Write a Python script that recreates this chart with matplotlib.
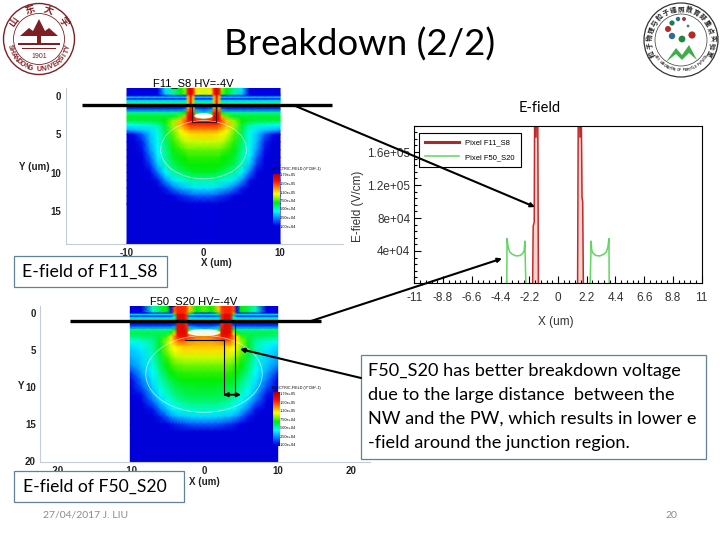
import numpy as np
import matplotlib
matplotlib.use('Agg')
import matplotlib.pyplot as plt
from matplotlib.colors import LinearSegmentedColormap
from matplotlib.patches import Circle, Ellipse, Polygon, Rectangle
from matplotlib.ticker import AutoMinorLocator

# ==========================================
# 1. VALUES
# ==========================================
TITLE = 'Breakdown (2/2)'
BOX_LINES = ['F50_S20 has better breakdown voltage',
             'due to the large distance  between the',
             'NW and the PW, which results in lower e',
             '-field around the junction region.']

# E-field profile, F11_S8 (red) and F50_S20 (green)
x_f11 = [-10, -3.9, -2.4, -1.94, -1.9, -1.82, -1.78, -1.68, -1.62, -1.56, -1.5,
         1.5, 1.56, 1.62, 1.68, 1.76, 1.84, 1.89, 1.94, 2.4, 3.9, 10]
y_f11 = [0, 0, 0, 0, 70000, 75000, 250000, 178000, 250000, 250000, 0,
         0, 250000, 250000, 178000, 250000, 105000, 100000, 0, 0, 0, 0]
x_f50 = [-10, -3.92, -3.9, -3.82, -3.7, -3.5, -3.2, -2.9, -2.7, -2.58, -2.54, -2.46,
         2.46, 2.54, 2.58, 2.7, 2.9, 3.2, 3.5, 3.7, 3.82, 3.9, 3.92, 10]
y_f50 = [0, 0, 55000, 45000, 39000, 36000, 34000, 34500, 37000, 41000, 52000, 0,
         0, 52000, 41000, 37000, 34500, 34000, 36000, 39000, 45000, 55000, 0, 0]
line_xticks = [-11, -8.8, -6.6, -4.4, -2.2, 0, 2.2, 4.4, 6.6, 8.8, 11]
line_xlabels = ['-11', '-8.8', '-6.6', '-4.4', '-2.2', '0', '2.2', '4.4', '6.6', '8.8', '11']
line_yticks = [40000, 80000, 120000, 160000]
line_ylabels = ['4e+04', '8e+04', '1.2e+05', '1.6e+05']

# colour scale labels of the two field maps
scale_labels = ['1.79e+05', '1.50e+05', '1.20e+05', '7.50e+04', '5.00e+04', '2.50e+04', '1.00e+04']

# field maps: half width columns (mirrored about x=0), one row per depth, 0-1 on the colour scale
f11_x = [0, 1, 1.4, 1.7, 2, 2.4, 3, 4, 5, 6, 7, 8, 9, 10]
f11_y = [-1, -0.2, 0, 0.2, 0.4, 0.6, 0.8, 1.1, 1.4, 1.8, 2.2, 2.7, 3.2, 3.8, 4.5, 5, 6, 7, 8, 9, 10, 11, 12, 13, 14, 19.3]
f11_map = [
    [.62, .68, .88, .93, .88, .58, .5, .42, .33, .09, .09, .09, .09, .09],
    [.62, .66, .88, .93, .88, .55, .48, .4, .3, .09, .09, .09, .09, .09],
    [.15, .15, .75, .93, .75, .16, .15, .15, .14, .12, .12, .12, .12, .12],
    [.33, .33, .7, .9, .7, .33, .33, .33, .33, .33, .33, .33, .33, .33],
    [.14, .14, .7, .9, .7, .14, .14, .14, .14, .14, .14, .14, .14, .14],
    [.3, .3, .7, .9, .7, .3, .3, .3, .3, .3, .3, .3, .3, .3],
    [.4, .4, .7, .9, .7, .4, .4, .4, .4, .4, .4, .4, .4, .4],
    [.42, .42, .7, .9, .7, .42, .42, .42, .42, .42, .42, .42, .42, .42],
    [.1, .1, .7, .9, .7, .1, .1, .1, .1, .1, .1, .1, .1, .1],
    [.2, .25, .75, .92, .75, .25, .2, .2, .2, .2, .2, .2, .2, .2],
    [.3, .45, .85, .93, .85, .5, .44, .42, .42, .42, .42, .42, .42, .42],
    [.55, .75, .92, .93, .9, .72, .55, .48, .47, .47, .47, .47, .47, .47],
    [.85, .88, .92, .92, .88, .8, .7, .58, .5, .48, .47, .47, .47, .47],
    [.84, .84, .84, .84, .82, .78, .72, .6, .47, .4, .38, .37, .36, .35],
    [.74, .74, .74, .74, .72, .7, .66, .57, .46, .37, .32, .3, .28, .26],
    [.69, .69, .68, .68, .67, .66, .63, .55, .45, .36, .3, .2, .12, .1],
    [.62, .62, .62, .62, .62, .61, .58, .52, .44, .36, .28, .14, .08, .08],
    [.56, .56, .56, .56, .56, .55, .53, .49, .42, .35, .25, .12, .08, .08],
    [.52, .52, .52, .52, .52, .5, .5, .47, .41, .34, .2, .1, .08, .08],
    [.5, .5, .5, .5, .5, .49, .48, .45, .39, .3, .15, .08, .08, .08],
    [.48, .48, .48, .47, .46, .45, .43, .4, .34, .22, .1, .08, .08, .08],
    [.4, .4, .4, .4, .39, .38, .37, .33, .25, .12, .08, .08, .08, .08],
    [.33, .33, .33, .32, .31, .3, .28, .22, .13, .08, .08, .08, .08, .08],
    [.2, .2, .19, .18, .17, .16, .14, .1, .08, .08, .08, .08, .08, .08],
    [.09, .09, .09, .09, .08, .08, .08, .08, .08, .08, .08, .08, .08, .08],
    [.08, .08, .08, .08, .08, .08, .08, .08, .08, .08, .08, .08, .08, .08],
]

f50_x = [0, 1, 2, 2.4, 2.8, 3.2, 3.6, 4, 4.5, 5, 6, 7, 8.5, 10]
f50_y = [-1, -0.2, 0, 0.2, 0.4, 0.6, 0.8, 1.1, 1.4, 1.8, 2.2, 2.7, 3.2, 3.8, 4.5, 5, 6, 7, 8, 9, 10, 11, 12, 13, 14, 15, 16, 20.1]
f50_map = [
    [.55, .5, .7, .83, .85, .85, .85, .8, .12, .5, .45, .4, .09, .09],
    [.55, .5, .7, .83, .85, .85, .85, .8, .12, .5, .45, .38, .09, .09],
    [.15, .15, .5, .8, .85, .85, .85, .75, .15, .15, .14, .14, .12, .12],
    [.33, .33, .4, .85, .92, .92, .9, .5, .33, .33, .33, .33, .33, .33],
    [.14, .14, .2, .85, .92, .92, .9, .3, .14, .14, .14, .14, .14, .14],
    [.3, .3, .3, .85, .92, .92, .9, .35, .3, .3, .3, .3, .3, .3],
    [.4, .4, .4, .85, .92, .92, .9, .42, .4, .4, .4, .4, .4, .4],
    [.42, .42, .42, .85, .92, .92, .9, .42, .42, .42, .42, .42, .42, .42],
    [.1, .1, .1, .85, .92, .92, .9, .1, .1, .1, .1, .1, .1, .1],
    [.2, .2, .25, .85, .92, .92, .9, .25, .2, .2, .2, .2, .2, .2],
    [.3, .35, .45, .88, .92, .92, .9, .5, .42, .42, .42, .42, .42, .42],
    [.55, .6, .7, .9, .92, .92, .9, .68, .5, .46, .46, .46, .46, .46],
    [.76, .78, .84, .88, .88, .88, .85, .77, .66, .54, .46, .44, .43, .42],
    [.74, .74, .76, .78, .8, .8, .78, .73, .67, .6, .48, .41, .38, .36],
    [.7, .7, .7, .7, .7, .69, .68, .66, .63, .58, .48, .4, .34, .32],
    [.68, .68, .68, .68, .68, .67, .66, .65, .62, .58, .48, .4, .33, .3],
    [.62, .62, .62, .62, .62, .61, .61, .6, .57, .53, .46, .38, .31, .27],
    [.57, .57, .57, .57, .57, .56, .56, .55, .53, .5, .44, .37, .3, .24],
    [.53, .53, .53, .53, .53, .52, .52, .51, .5, .47, .42, .35, .27, .16],
    [.5, .5, .5, .5, .5, .49, .49, .48, .46, .44, .39, .33, .23, .1],
    [.48, .48, .47, .47, .47, .46, .46, .45, .43, .41, .37, .31, .18, .08],
    [.46, .46, .46, .45, .45, .44, .44, .42, .41, .39, .34, .27, .12, .08],
    [.43, .43, .43, .42, .42, .41, .4, .39, .37, .35, .3, .2, .09, .08],
    [.39, .39, .38, .38, .37, .37, .36, .35, .33, .3, .22, .12, .08, .08],
    [.32, .32, .31, .31, .3, .3, .29, .27, .25, .21, .13, .08, .08, .08],
    [.2, .2, .19, .18, .17, .16, .15, .14, .12, .1, .08, .08, .08, .08],
    [.08, .08, .08, .08, .08, .08, .08, .08, .08, .08, .08, .08, .08, .08],
    [.08, .08, .08, .08, .08, .08, .08, .08, .08, .08, .08, .08, .08, .08],
]

SLIDE_FONT = 'Lato'
PLOT_FONT = 'Liberation Sans'
plt.rcParams['font.family'] = [SLIDE_FONT, 'DejaVu Sans']
plt.rcParams['axes.unicode_minus'] = False

# saturated rainbow, like the simulation tool's scale
FIELD_CMAP = LinearSegmentedColormap.from_list('field', [
    (0, '#0000a8'), (0.1, '#0000e6'), (0.2, '#0060ff'), (0.35, '#00ffff'), (0.5, '#00ee00'),
    (0.65, '#ffff00'), (0.87, '#ff1000'), (1, '#a80000')])

W, H = 720, 540
fig = plt.figure(figsize=(7.2, 5.4), dpi=100, facecolor='white')


def px_axes(left, top, right, bottom, **kw):
    return fig.add_axes([left / W, 1 - bottom / H, (right - left) / W, (bottom - top) / H], **kw)


# ==========================================
# 2. THE TWO FIELD MAPS
# ==========================================
def field_map(box, xlim, ylim, half_x, depth, rows, xticks, yticks, contour):
    ax = px_axes(*box)
    xs = np.array(half_x, dtype=float)
    vals = np.array(rows, dtype=float)
    full_x = np.concatenate([-xs[:0:-1], xs])
    full_v = np.hstack([vals[:, :0:-1], vals])
    ax.pcolormesh(full_x, np.array(depth), full_v, cmap=FIELD_CMAP, vmin=0, vmax=1, shading='gouraud')
    ax.add_patch(Ellipse(contour[:2], contour[2], contour[3], fc='none', ec='white', lw=0.5, alpha=0.75))
    ax.set_xlim(*xlim)
    ax.set_ylim(*ylim)
    ax.set_xticks(xticks)
    ax.set_yticks(yticks)
    ax.tick_params(length=0, labelsize=7, pad=3, labelcolor='#222222')
    for lab in ax.get_xticklabels() + ax.get_yticklabels():
        lab.set_family(PLOT_FONT)
        lab.set_fontweight('bold')
    for side in ['top', 'right']:
        ax.spines[side].set_visible(False)
    for side in ['left', 'bottom']:
        ax.spines[side].set_color('#c4cdd6')
        ax.spines[side].set_linewidth(0.8)
    return ax


ax_a = field_map((65.6, 88, 343, 244), (-18.03, 18.23), (19.3, -1.04), f11_x, f11_y, f11_map,
                 [-10, 0, 10], [0, 5, 10, 15], (0, 7, 11.2, 7.6))
ax_b = field_map((40, 306, 370, 461.7), (-22.25, 22.52), (20.1, -1), f50_x, f50_y, f50_map,
                 [-20, -10, 0, 10, 20], [0, 5, 10, 15, 20], (0, 8.2, 15.8, 10.4))
# the white pockets between the red columns
ax_a.add_patch(Ellipse((0, 2.6), 2.4, 0.7, fc='white', ec='none'))
ax_b.add_patch(Ellipse((0, 2.6), 4.4, 0.9, fc='white', ec='none', alpha=0.9))

# ==========================================
# 3. E-FIELD PROFILE
# ==========================================
ax_l = px_axes(414.3, 125.7, 701.7, 283.3)
ax_l.fill_between(x_f11, y_f11, color='#f8d3d0', lw=0)
ax_l.plot(x_f11, y_f11, color='#c22a2a', lw=1.1, label='Pixel F11_S8')
ax_l.plot(x_f50, y_f50, color='#62d562', lw=1.1, label='Pixel F50_S20')
ax_l.set_xlim(-11, 11)
ax_l.set_ylim(800, 192000)
ax_l.set_xticks(line_xticks)
ax_l.set_xticklabels(line_xlabels, family=PLOT_FONT, fontsize=8.5, color='#333333')
ax_l.set_yticks(line_yticks)
ax_l.set_yticklabels(line_ylabels, family=PLOT_FONT, fontsize=8.5, color='#333333')
ax_l.xaxis.set_minor_locator(AutoMinorLocator(5))
ax_l.yaxis.set_minor_locator(AutoMinorLocator(5))
ax_l.tick_params(axis='x', which='major', direction='in', length=5, width=0.8, pad=6)
ax_l.tick_params(axis='y', which='major', direction='in', length=5, width=0.8, pad=3)
ax_l.tick_params(which='minor', direction='in', length=2.5, width=0.8)
leg = ax_l.legend(loc='upper left', bbox_to_anchor=(0.0167, 0.953), borderaxespad=0, fancybox=False, framealpha=1,
                  edgecolor='black', prop={'family': PLOT_FONT, 'size': 5.5}, handlelength=4.4, labelspacing=0.9,
                  borderpad=0.8)
leg.get_frame().set_linewidth(0.8)
leg.get_lines()[0].set_linewidth(2.2)
leg.get_lines()[0].set_color('#a82a2a')

# ==========================================
# 4. OVERLAY IN SLIDE PIXELS
# ==========================================
ov = fig.add_axes([0, 0, 1, 1], zorder=10)
ov.set_xlim(0, W)
ov.set_ylim(H, 0)
ov.axis('off')
ov.patch.set_alpha(0)


def label(x, y, s, size, color='black', font=None, **kw):
    ov.text(x, y, s, fontsize=size, color=color, family=font or [SLIDE_FONT, 'DejaVu Sans'],
            ha=kw.pop('ha', 'center'), va=kw.pop('va', 'center'), **kw)


def text_box(x0, y0, x1, y1):
    ov.add_patch(Rectangle((x0, y0), x1 - x0, y1 - y0, fc='white', ec='#5f8296', lw=0.9))


def arrow(x0, y0, x1, y1, style='-|>', lw=1.5):
    ov.annotate('', xy=(x1, y1), xytext=(x0, y0),
                arrowprops=dict(arrowstyle=style, color='black', lw=lw, shrinkA=0, shrinkB=0, mutation_scale=6))


def arc_text(cx, cy, r, s, start, end, size, color, font=None, bottom=False):
    for ch, t in zip(s, np.linspace(start, end, len(s))):
        a = np.radians(t)
        rot = t + 90 if bottom else t - 90
        ov.text(cx + r * np.cos(a), cy - r * np.sin(a), ch, fontsize=size, color=color, rotation=rot,
                ha='center', va='center', family=font or PLOT_FONT, fontweight='bold')


label(359.5, 45, TITLE, 26.3)
label(540, 108, 'E-field', 10.5)

# plot texts
label(193, 83.5, 'F11_S8 HV=-4V', 8, font=PLOT_FONT)
label(34, 167, 'Y (um)', 7, font=PLOT_FONT, fontweight='bold', color='#222222')
label(216, 263.5, 'X (um)', 7, font=PLOT_FONT, fontweight='bold', color='#222222')
label(194, 301, 'F50_S20 HV=-4V', 8, font=PLOT_FONT)
label(21, 386, 'Y', 7, font=PLOT_FONT, fontweight='bold', color='#222222')
label(204, 482, 'X (um)', 7, font=PLOT_FONT, fontweight='bold', color='#222222')
label(358, 206, 'E-field (V/cm)', 8.5, font=PLOT_FONT, rotation=90, color='#333333')
label(556, 322.5, 'X (um)', 8.5, font=PLOT_FONT, color='#333333')

# colour scales inside the maps
for (x0, y0, y1, title_x) in [(272.5, 173.5, 227, 272), (272.5, 392, 446, 272)]:
    cb = px_axes(x0, y0, x0 + 6.5, y1, zorder=5)
    cb.imshow(np.linspace(1, 0.09, 64)[:, None], cmap=FIELD_CMAP, vmin=0, vmax=1, aspect='auto')
    cb.axis('off')
    label(title_x, y0 - 4.5, 'ELECTRIC-FIELD (V*CM^-1)', 2.7, font=PLOT_FONT, ha='left')
    for name, yy in zip(scale_labels, np.linspace(y0 + 2, y1 - 0.5, len(scale_labels))):
        label(x0 + 7.5, yy, name, 2.8, font=PLOT_FONT, ha='left')

# black markers on the plots
ax_a.add_patch(Rectangle((-1.57, 1.0), 3.14, 2.45, fc='none', ec='#401010', lw=0.8))
ov.plot([82, 332], [105.3, 105.3], color='black', lw=2.4, solid_capstyle='butt')
ov.plot([70, 321], [321.3, 321.3], color='black', lw=2.4, solid_capstyle='butt')
arrow(293, 105, 535, 207)
arrow(308, 322, 502, 258.5)
arrow(361, 378, 240, 349)
ov.plot([185, 223.7, 223.7], [340, 340, 395], color='black', lw=0.8)
ov.plot([235.3, 235.3], [325, 395], color='black', lw=0.8)
arrow(223.5, 394.7, 241, 394.7, style='<|-|>', lw=1.3)

# text boxes
text_box(14, 256, 167, 287)
label(90, 271.5, 'E-field of F11_S8', 12.8)
text_box(14, 471, 184, 502)
label(94.5, 486.5, 'E-field of F50_S20', 12.6)
text_box(361, 355, 706, 459)
for yy, line in zip([371, 395, 419, 443], BOX_LINES):
    label(368, yy, line, 13.1, ha='left')

# footer
label(85.5, 515, '27/04/2017 J. LIU', 7.5, color='#8b8b8b')
label(671, 515.5, '20', 7.5, color='#8b8b8b')

# left logo
RED = '#7f1f24'
ov.add_patch(Circle((39, 39), 35.5, fc='white', ec=RED, lw=1.0))
ov.add_patch(Circle((39, 39), 25.5, fc='white', ec=RED, lw=0.6))
ov.add_patch(Polygon([(20, 36), (29, 28), (33, 31), (39, 19), (45, 31), (49, 28), (58, 36)], fc=RED, ec='none'))
ov.add_patch(Rectangle((18, 43), 42, 2, fc=RED, ec='none'))
ov.add_patch(Rectangle((37, 30), 4, 15, fc=RED, ec='none'))
ov.add_patch(Rectangle((22, 48), 34, 1, fc=RED, ec='none'))
label(39, 56, '1901', 5, color=RED, font=PLOT_FONT)
arc_text(39, 39, 30.5, 'SHANDONG UNIVERSITY', 195, 345, 5, RED, bottom=True)
arc_text(39, 39, 30.5, '山东大学', 145, 35, 7, RED, font=['Noto Sans CJK SC'])

# right logo
ov.add_patch(Circle((681, 40), 37, fc='white', ec='#333333', lw=0.9))
ov.add_patch(Circle((681, 40), 26, fc='white', ec='#333333', lw=0.5))
arc_text(681, 40, 31.5, '粒子物理与粒子辐照教育部重点实验室', 205, -25, 4.8, '#222222', font=['Noto Sans CJK SC'])
arc_text(681, 40, 30.5, 'KEY LABORATORY OF PARTICLE PHYSICS', 212, 328, 2.3, '#333333', bottom=True)
ov.add_patch(Polygon([(666, 62), (676, 48), (682, 55), (689, 45), (697, 60), (689, 53), (682, 60), (676, 54)],
                     fc='#3fae4a', ec='none'))
for (bx, by, br, bc) in [(672, 23, 2.6, '#1d7a55'), (678, 19, 2.2, '#2a6f8a'), (684, 19, 2, '#a33a35'),
                         (688, 26, 1.4, '#3d7f99'), (668, 29, 3, '#b32a2a'), (672, 36, 3.2, '#2c6aa0'),
                         (692, 35, 3.6, '#b32a2a'), (682, 39, 3.4, '#1f8a3f')]:
    ov.add_patch(Circle((bx, by), br, fc=bc, ec='none'))

plt.savefig('out.png', dpi=100)
